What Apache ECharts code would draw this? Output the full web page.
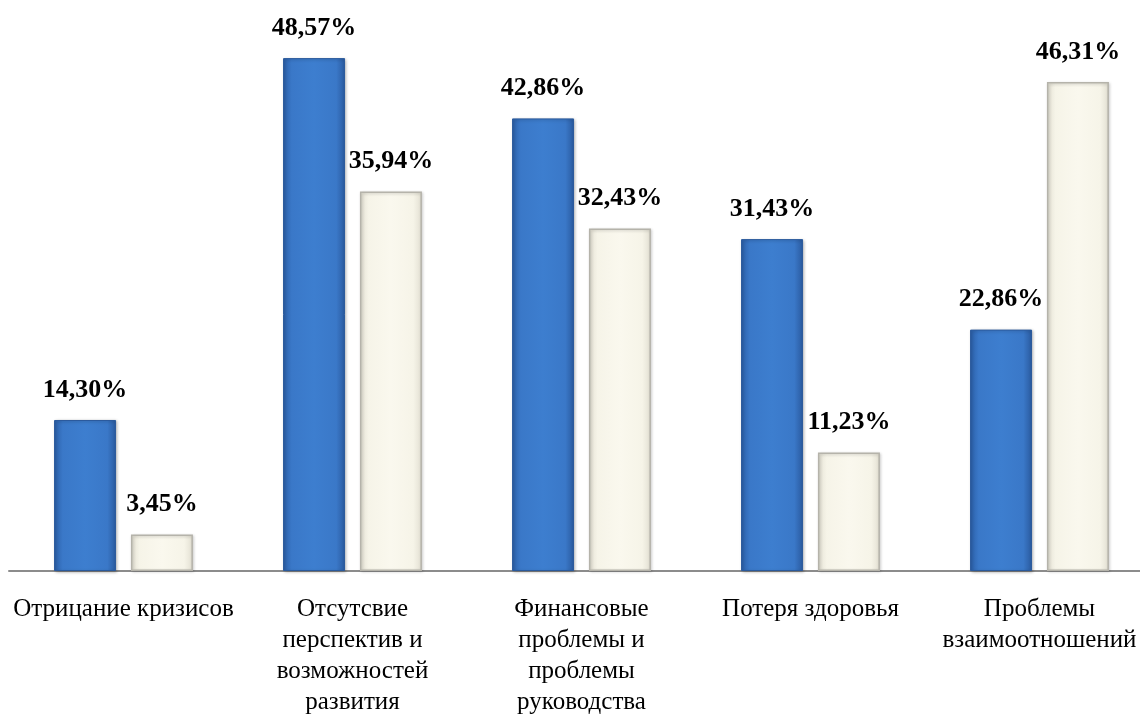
<!DOCTYPE html>
<html>
<head>
<meta charset="utf-8">
<script src="https://cdn.jsdelivr.net/npm/echarts@6/dist/echarts.min.js"></script>
<style>html,body{margin:0;padding:0;background:#fff}#c{width:1140px;height:721px}</style>
</head>
<body>
<div id="c"></div>
<script>
var categories = ["Отрицание кризисов", "Отсутсвие\nперспектив и\nвозможностей\nразвития", "Финансовые\nпроблемы и\nпроблемы\nруководства", "Потеря здоровья", "Проблемы\nвзаимоотношений"];
var seriesA = [14.30, 48.57, 42.86, 31.43, 22.86];
var seriesB = [3.45, 35.94, 32.43, 11.23, 46.31];

function fmt(p) { return p.value.toFixed(2).replace('.', ',') + '%'; }

var blueFill = new echarts.graphic.LinearGradient(0, 0, 1, 0, [
  {offset: 0, color: '#2b5fa8'},
  {offset: 0.14, color: '#3a78c8'},
  {offset: 0.5, color: '#3d7ecf'},
  {offset: 0.86, color: '#3a78c8'},
  {offset: 1, color: '#2a5a9f'}
]);
var creamFill = new echarts.graphic.LinearGradient(0, 0, 1, 0, [
  {offset: 0, color: '#e4e1d4'},
  {offset: 0.14, color: '#f6f4e8'},
  {offset: 0.5, color: '#faf8ee'},
  {offset: 0.86, color: '#f6f4e8'},
  {offset: 1, color: '#e2dfd2'}
]);

var labelStyle = {
  show: true, position: 'top', distance: 17,
  formatter: fmt,
  fontFamily: '"Liberation Serif", "Times New Roman", serif',
  fontWeight: 'bold', fontSize: 26, color: '#000'
};

var chart = echarts.init(document.getElementById('c'));
chart.setOption({
  animation: false,
  backgroundColor: '#fff',
  grid: {left: 9, width: 1145, top: 43, bottom: 150, containLabel: false, outerBoundsMode: 'none'},
  xAxis: {
    type: 'category', data: categories,
    axisLine: {show: true, lineStyle: {color: '#8c8c8c', width: 2}},
    axisTick: {show: false},
    axisLabel: {
      interval: 0, margin: 23,
      fontFamily: '"Liberation Serif", "Times New Roman", serif',
      fontSize: 25, lineHeight: 31, color: '#000', align: 'center'
    }
  },
  yAxis: {type: 'value', min: 0, max: 50, show: false, splitLine: {show: false}},
  series: [
    {
      type: 'bar', data: seriesA, barWidth: 62, barGap: '24%',
      itemStyle: {color: blueFill, borderColor: '#2a5a9c', borderWidth: 1,
        shadowColor: 'rgba(0,0,0,0.25)', shadowBlur: 3, shadowOffsetX: 1, shadowOffsetY: 1},
      label: labelStyle
    },
    {
      type: 'bar', data: seriesB, barWidth: 62, barGap: '24%',
      itemStyle: {color: creamFill, borderColor: '#b5b3aa', borderWidth: 1.5,
        shadowColor: 'rgba(0,0,0,0.2)', shadowBlur: 3, shadowOffsetX: 1, shadowOffsetY: 1},
      label: labelStyle
    }
  ]
});
</script>
</body>
</html>
